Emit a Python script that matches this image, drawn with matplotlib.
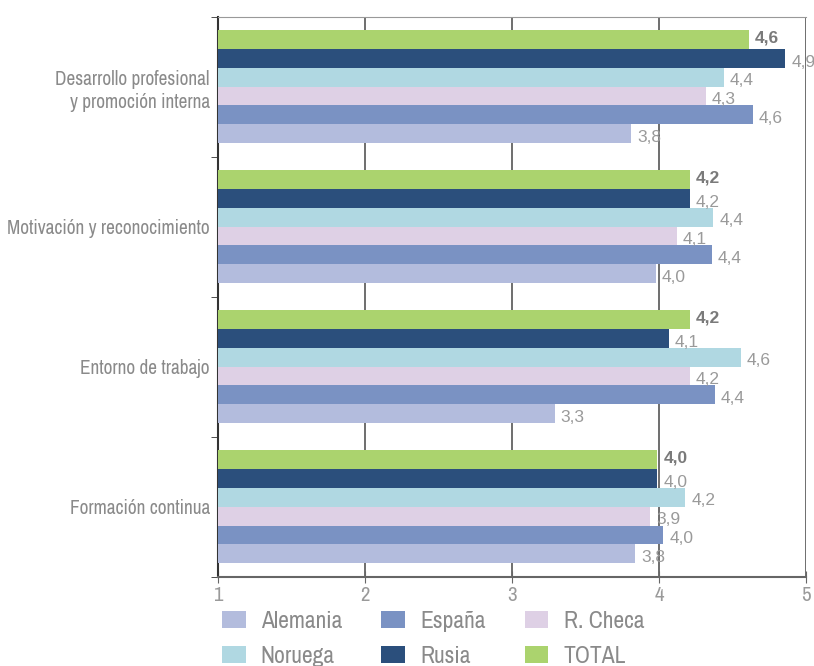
import numpy as np
import matplotlib.pyplot as plt
from matplotlib import font_manager
from matplotlib.patches import Patch

categories = ['Desarrollo profesional\ny promoción interna',
              'Motivación y reconocimiento',
              'Entorno de trabajo',
              'Formación continua']
series = ['Alemania', 'España', 'R. Checa', 'Noruega', 'Rusia', 'TOTAL']
colors = ['#b3bcdd', '#7a92c3', '#ded0e5', '#b0d8e2', '#2b4f7c', '#abd36e']

alemania = [3.81, 3.98, 3.29, 3.84]
espana = [4.64, 4.36, 4.38, 4.03]
rcheca = [4.32, 4.12, 4.21, 3.94]
noruega = [4.44, 4.37, 4.56, 4.18]
rusia = [4.86, 4.21, 4.07, 3.99]
total = [4.61, 4.21, 4.21, 3.99]
values = [alemania, espana, rcheca, noruega, rusia, total]

# look for a narrow face, fall back to condensed DejaVu
names = sorted({f.name for f in font_manager.fontManager.ttflist})
narrow_names = [n for n in names if 'Narrow' in n or 'Condensed' in n]
narrow = narrow_names[:1] + ['DejaVu Sans']
stretch = 'condensed'

fig = plt.figure(figsize=(8.14, 6.66), dpi=100)
ax = fig.add_axes([0.268, 0.134, 0.722, 0.841])

n = len(series)
h = 0.134
ypos = np.arange(len(categories))[::-1]  # first category at top
for i, (name, vals, c) in enumerate(zip(series, values, colors)):
    off = (i - (n - 1) / 2) * h
    y = ypos + off
    ax.barh(y, np.array(vals) - 1, left=1, height=h, color=c, edgecolor='none', zorder=3)
    for yy, v in zip(y, vals):
        txt = f'{v:.1f}'.replace('.', ',')
        if name == 'TOTAL':
            ax.text(v + 0.04, yy + 0.01, txt, va='center', ha='left', fontsize=12.5,
                    color='#7a7a7a', fontweight='bold', family='Liberation Sans', zorder=4)
        else:
            ax.text(v + 0.04, yy - 0.025, txt, va='center', ha='left', fontsize=12.5,
                    color='#9a9a9a', family='Liberation Sans', zorder=4)

ax.set_xlim(1, 5)
ax.set_ylim(-0.5, len(categories) - 0.5)
ax.set_xticks([1, 2, 3, 4, 5])
ax.set_xticklabels(['1', '2', '3', '4', '5'])
for t in ax.get_xticklabels():
    t.set_fontsize(15)
    t.set_color('#9a9a9a')
    t.set_family(narrow)
ax.tick_params(axis='x', direction='inout', length=9, color='#666666', pad=2)
ax.set_yticks(ypos)
ax.set_yticklabels(categories, fontsize=13.9, color='#8a8a8a', family=narrow,
                   fontstretch=stretch, linespacing=1.3)
ax.tick_params(axis='y', length=0, pad=6)
ax.set_yticks(np.arange(-0.5, len(categories)), minor=True)
ax.tick_params(axis='y', which='minor', length=5, color='#333333', direction='out')

ax.grid(axis='x', color='#555555', linewidth=1.2, zorder=1)
ax.spines['left'].set_color('#333333')
ax.spines['left'].set_linewidth(1.5)
ax.spines['bottom'].set_color('#666666')
ax.spines['bottom'].set_linewidth(1.5)
ax.spines['top'].set_color('#999999')
ax.spines['right'].set_visible(False)

# legend filled row by row
order = [0, 3, 1, 4, 2, 5]
handles = [Patch(facecolor=colors[k], edgecolor='none') for k in order]
labels = [series[k] for k in order]
fig.legend(handles, labels, loc='upper left', bbox_to_anchor=(0.261, 0.097), ncol=3,
           frameon=False, prop={'family': narrow, 'size': 17, 'stretch': stretch},
           labelcolor='#8a8a8a', handlelength=1.0, handleheight=0.75,
           columnspacing=1.65, handletextpad=0.65, labelspacing=0.6, borderaxespad=0)

fig.savefig('out.png')
